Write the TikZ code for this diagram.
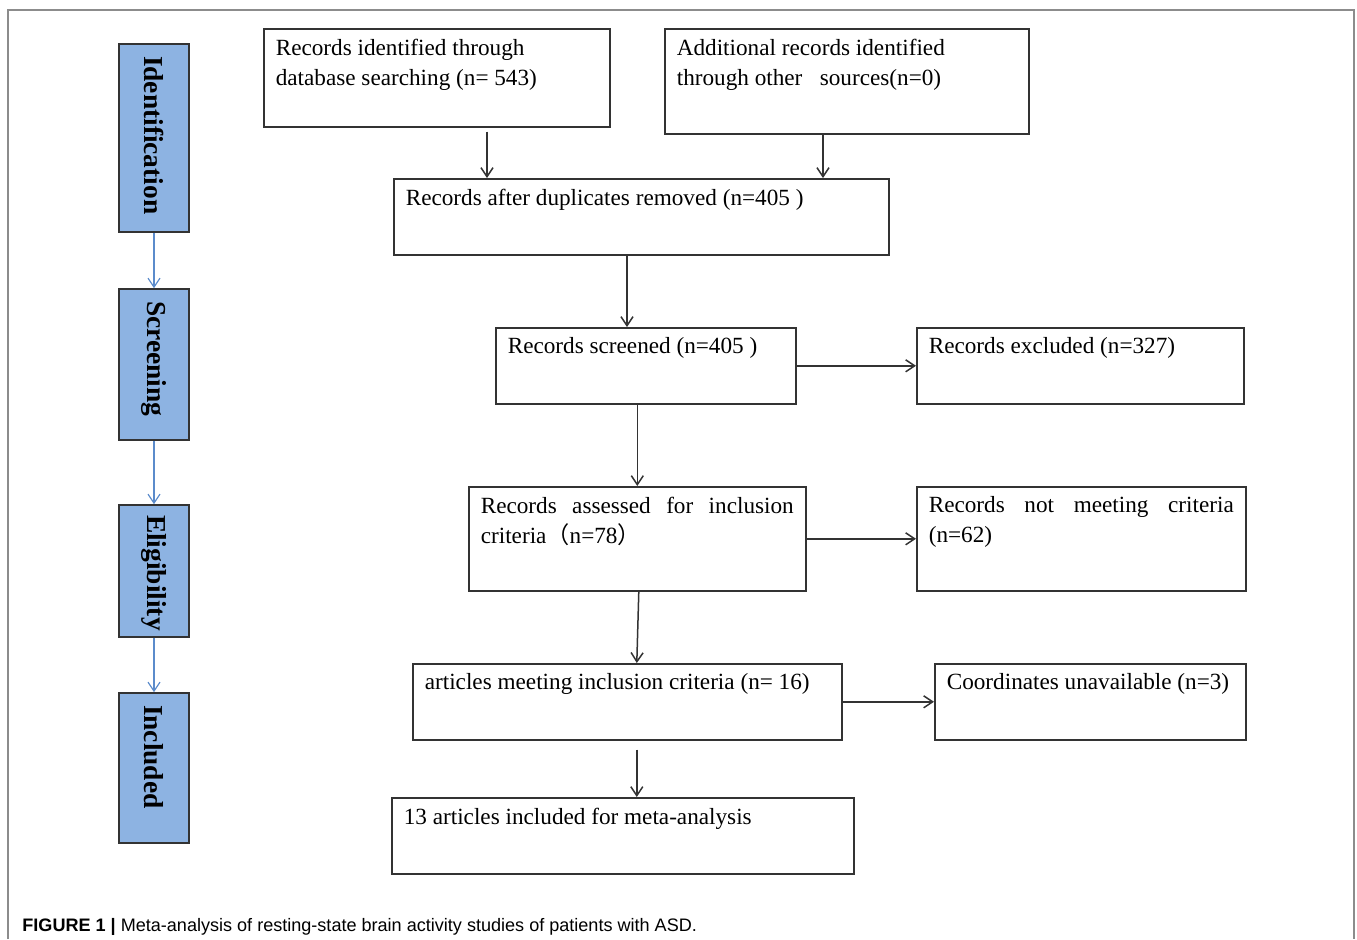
\documentclass[tikz,border=0pt]{standalone}
\usepackage{fontspec}
\setmainfont{Liberation Serif}
\newfontfamily\capfont{Liberation Sans}
\newfontfamily\cjk{Noto Sans CJK SC}
\usetikzlibrary{arrows.meta, calc}

\definecolor{stageblue}{HTML}{8DB3E2}
\definecolor{stageline}{HTML}{5B8BCB}
\definecolor{boxline}{HTML}{333333}
\definecolor{framegray}{HTML}{8C8C8C}

\newlength\pxu
\setlength\pxu{0.5pt}
\newcommand{\boxtext}[3]{\parbox[c][#2\pxu][t]{#1\pxu}{#3}}
\newcommand{\stagetext}[2]{\rotatebox{-90}{\makebox[#1\pxu][l]{#2}}}

\tikzstyle{record} = [rectangle, draw=boxline, line width=0.8pt, inner xsep=6pt, inner ysep=5pt, anchor=north west, font=\fontsize{11.6}{15}\selectfont]
\tikzstyle{stage} = [rectangle, draw=boxline, fill=stageblue, line width=0.8pt, inner sep=0pt, minimum width=35pt, font=\fontsize{13.7}{16}\selectfont\bfseries]
\tikzstyle{arrow} = [line width=0.75pt, draw=boxline, -{Straight Barb[length=4.5pt,width=6pt]}]
\tikzstyle{stagearrow} = [line width=0.6pt, draw=stageline, -{Straight Barb[length=4.5pt,width=6pt]}]

\begin{document}
\begin{tikzpicture}[x=0.5pt, y=-0.5pt]
\useasboundingbox (0,0) rectangle (1357,939);

% Frame and caption
\draw [framegray, line width=0.75pt] (8,939) -- (8,10) -- (1354,10) -- (1354,939);
\node (caption) [anchor=base west, inner sep=0pt, font=\capfont\fontsize{9.03}{11}\selectfont] at (22,931) {\textbf{FIGURE 1 |} Meta-analysis of resting-state brain activity studies of patients with ASD.};

% Stages
\node (ident) [stage, minimum height=94pt] at (154,138) {\stagetext{164}{Identification}};
\node (screen) [stage, minimum height=75.5pt] at (154,364.5) {\stagetext{127}{Screening}};
\node (elig) [stage, minimum height=66pt] at (154,571) {\stagetext{112}{Eligibility}};
\node (incl) [stage, minimum height=75pt] at (154,768) {\stagetext{126}{Included}};

% Nodes
\node (dbsearch) [record] at (263,28) {\boxtext{322}{78}{Records identified through\\ database searching (n= 543)}};
\node (othersrc) [record] at (664,28) {\boxtext{340}{85}{Additional records identified\\ through other\ \ \ sources(n=0)}};
\node (dedup) [record] at (393,178) {\boxtext{471}{56}{Records after duplicates removed (n=405 )}};
\node (screened) [record] at (495,327) {\boxtext{276}{56}{Records screened (n=405 )}};
\node (excluded) [record] at (916,327) {\boxtext{303}{56}{Records excluded (n=327)}};
\node (assessed) [record] at (468,486) {\boxtext{313}{84}{Records assessed for inclusion\linebreak criteria{\cjk （}n=78{\cjk ）}}};
\node (notmeet) [record] at (916,486) {\boxtext{305}{84}{Records not meeting criteria\linebreak (n=62)}};
\node (included) [record] at (412,663) {\boxtext{405}{56}{articles meeting inclusion criteria (n= 16)}};
\node (coords) [record] at (934,663) {\boxtext{287}{56}{\mbox{Coordinates unavailable (n=3)}}};
\node (final) [record] at (391,797) {\boxtext{438}{56}{13 articles included for meta-analysis}};

% Arrows
\draw [stagearrow] (ident.south) -- (screen.north);
\draw [stagearrow] (screen.south) -- (elig.north);
\draw [stagearrow] (elig.south) -- (incl.north);

\coordinate (a1) at ($(dbsearch.south west)+(224,4)$);
\coordinate (a2) at ($(othersrc.south west)+(159,0)$);
\coordinate (a3) at ($(dedup.south west)+(234,0)$);
\coordinate (a4) at ($(included.south)+(9.5,9)$);
\draw [arrow] (a1) -- (a1 |- dedup.north);
\draw [arrow] (a2) -- (a2 |- dedup.north);
\draw [arrow] (a3) -- (a3 |- screened.north);
\draw [arrow] (assessed.north |- screened.south) -- (assessed.north);
\draw [arrow] (screened.east) -- (screened.east -| excluded.west);
\draw [arrow] ($(assessed.south)+(1.5,0)$) -- ($(included.north)+(9.5,0)$);
\draw [arrow] (assessed.east) -- (assessed.east -| notmeet.west);
\draw [arrow] (included.east) -- (included.east -| coords.west);
\draw [arrow] (a4) -- (a4 |- final.north);

\end{tikzpicture}
\end{document}
